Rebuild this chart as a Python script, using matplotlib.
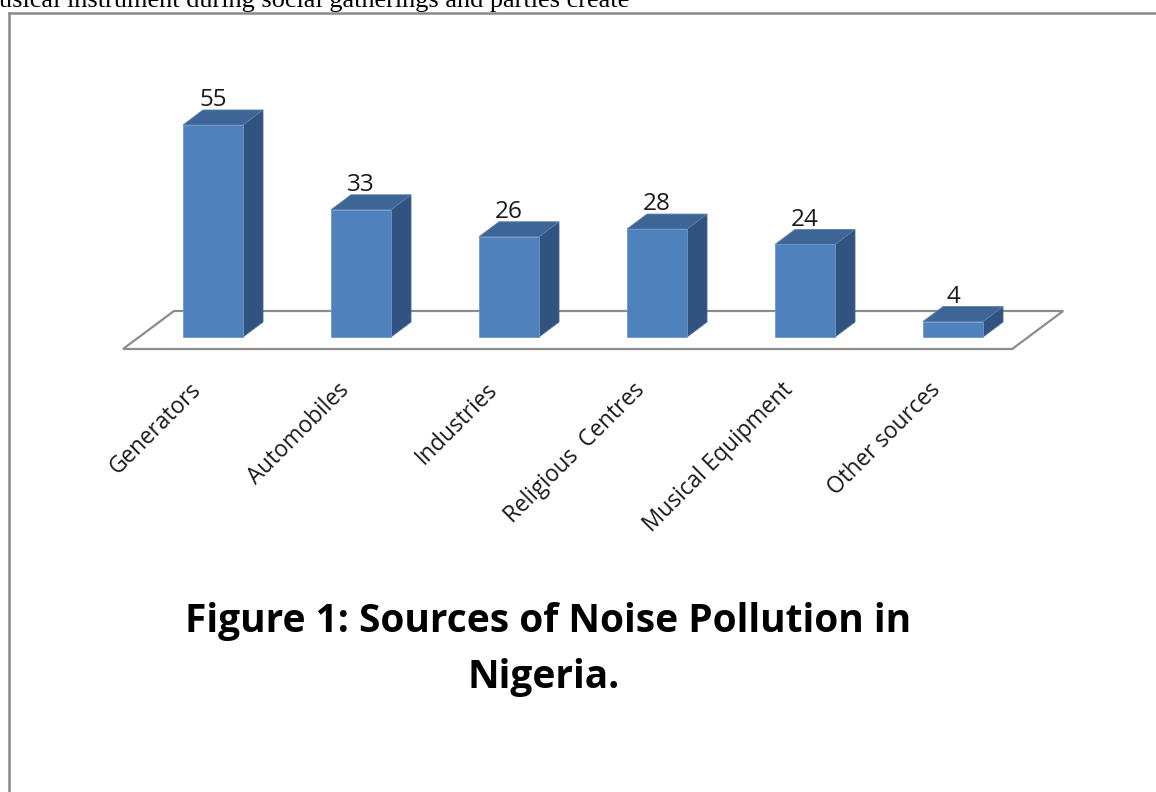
import matplotlib
matplotlib.use("Agg")
import matplotlib.pyplot as plt
from matplotlib.patches import Polygon
from matplotlib.lines import Line2D

# data
categories = ["Generators", "Automobiles", "Industries", "Religious  Centres",
              "Musical Equipment", "Other sources"]
values = [55, 33, 26, 28, 24, 4]

title_lines = ["Figure 1: Sources of Noise Pollution in", "Nigeria."]
page_text = "usical instrument during social gatherings and parties create"

W, H = 1156, 792
fig = plt.figure(figsize=(W / 100, H / 100), dpi=100)
ax = fig.add_axes([0, 0, 1, 1])

# scale: one category = 148 px, one unit of value = 3.855 px
px_x = 148.0
px_y = 3.855
x0, y0 = 213.0, 337.0           # pixel position of category 0 at value 0
ax.set_xlim((0 - x0) / px_x, (W - x0) / px_x)
ax.set_ylim((y0 - H) / px_y, y0 / px_y)
ax.axis("off")

bar_w = 60 / px_x
dx = 20 / px_x
dy = 15 / px_y

front_col = "#4f81bd"
top_col = "#3d6596"
side_col = "#31537f"

# floor of the 3d plot
fdx = 51 / px_x
fdy = 38 / px_y
fl_left = -0.608
fl_right = len(values) - 1 + 0.4
fl_front = -3.11
floor = Polygon([(fl_left, fl_front), (fl_right, fl_front),
                 (fl_right + fdx, fl_front + fdy), (fl_left + fdx, fl_front + fdy)],
                closed=True, facecolor="white", edgecolor="#8c8c8c", lw=1.6, zorder=1)
ax.add_patch(floor)

for i, v in enumerate(values):
    l, r = i - bar_w / 2, i + bar_w / 2
    front = Polygon([(l, 0), (r, 0), (r, v), (l, v)], closed=True,
                    facecolor=front_col, edgecolor="#6f97c9", lw=0.6, zorder=3)
    top = Polygon([(l, v), (r, v), (r + dx, v + dy), (l + dx, v + dy)], closed=True,
                  facecolor=top_col, edgecolor="#5b7fad", lw=0.6, zorder=3)
    side = Polygon([(r, 0), (r + dx, dy), (r + dx, v + dy), (r, v)], closed=True,
                   facecolor=side_col, edgecolor="#4a6a96", lw=0.6, zorder=3)
    for p in (side, top, front):
        ax.add_patch(p)
    ax.text(i, v + dy + 1.0, str(v), ha="center", va="baseline",
            fontsize=17.5, family="Open Sans", color="#1a1a1a", zorder=4)
    ax.text(i - 24 / px_x, (y0 - 378) / px_y, categories[i], rotation=45,
            rotation_mode="anchor", ha="right", va="top",
            fontsize=16.3, family="Open Sans", color="#1a1a1a")

# title, two centred lines
ax.text((548 - x0) / px_x, (y0 - 632) / px_y, title_lines[0], ha="center", va="baseline",
        fontsize=28, fontweight="bold", family="Open Sans", color="black")
ax.text((544 - x0) / px_x, (y0 - 688) / px_y, title_lines[1], ha="center", va="baseline",
        fontsize=28, fontweight="bold", family="Open Sans", color="black")

# page frame and cut off line of text above the chart
fig.add_artist(Line2D([9 / W, 9 / W], [0, 1 - 12.5 / H], transform=fig.transFigure,
                      color="#8a8a8a", lw=1.8))
fig.add_artist(Line2D([9 / W, 1], [1 - 12.5 / H, 1 - 12.5 / H], transform=fig.transFigure,
                      color="#8a8a8a", lw=1.8))
fig.text(-0.001, 1 - 7 / H, page_text, ha="left", va="baseline",
         fontsize=18.9, family="Liberation Serif", color="black")

fig.savefig("out.png", dpi=100)
